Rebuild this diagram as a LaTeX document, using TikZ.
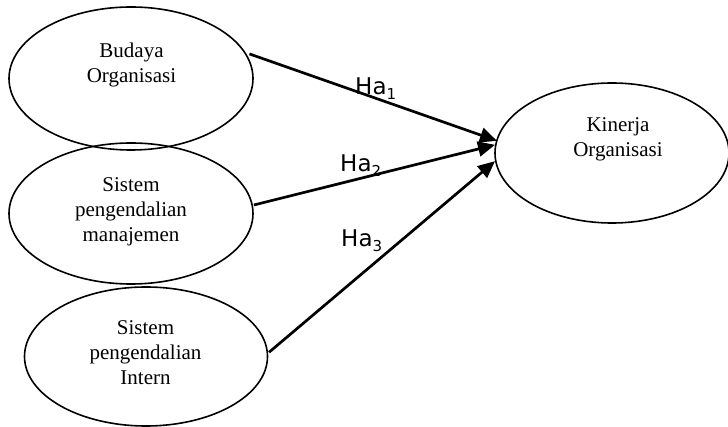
\documentclass[tikz,border=0pt]{standalone}
\usepackage{fontspec}
\setmainfont{Liberation Serif}
\newfontfamily\labelfont{DejaVu Sans}
\usetikzlibrary{shapes.geometric,arrows.meta}
\tikzset{
  construct/.style={draw=black, line width=1.6pt, ellipse, inner sep=0pt},
  ctext/.style={align=center, inner sep=0pt, font=\fontsize{21}{25}\selectfont},
  path/.style={line width=2.7pt, -{Triangle[length=17pt,width=15pt]}},
  hyp/.style={anchor=base west, inner sep=0pt, font=\labelfont\fontsize{23}{25}\selectfont}
}
\newcommand{\hsub}[1]{\raisebox{-5pt}{\fontsize{15}{15}\selectfont #1}}
\begin{document}
\begin{tikzpicture}[x=1pt, y=-1pt]
  \useasboundingbox (0,0) rectangle (728,427);

  % latent constructs
  \node[construct, minimum width=244pt, minimum height=143pt] (budaya) at (131,78.5) {};
  \node[construct, minimum width=244pt, minimum height=141pt] (spm) at (131,213.5) {};
  \node[construct, minimum width=243pt, minimum height=139pt] (spi) at (146,356.5) {};
  \node[construct, minimum width=234pt, minimum height=140pt] (kinerja) at (612,153) {};

  % construct names
  \node[ctext] (budaya-t) at (131.5,64.5) {Budaya\\Organisasi};
  \node[ctext] (spm-t) at (131,211.3) {Sistem\\pengendalian\\manajemen};
  \node[ctext] (spi-t) at (145.5,352.5) {Sistem\\pengendalian\\Intern};
  \node[ctext] (kinerja-t) at (618,139.8) {Kinerja\\Organisasi};

  % hypothesised paths
  \draw[path] ([xshift=3pt]budaya.12) -- ([xshift=1pt]kinerja.174);
  \draw[path] ([xshift=1pt]spm.4.5) -- (kinerja.176.5);
  \draw[path] ([xshift=1pt]spi.2.6) -- (kinerja.184.4);

  % path labels
  \node[hyp] (ha1) at (355,95) {Ha\hsub{1}};
  \node[hyp] (ha2) at (340,172) {Ha\hsub{2}};
  \node[hyp] (ha3) at (341,247) {Ha\hsub{3}};
\end{tikzpicture}
\end{document}
